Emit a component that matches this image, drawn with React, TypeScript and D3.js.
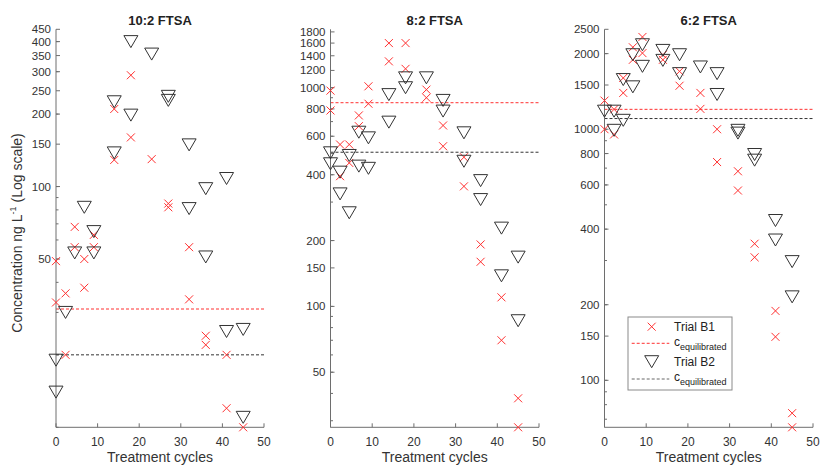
import React from 'react';
import * as d3 from 'd3';

// treatment cycles (shared x positions)
const cycles = [0, 2.3, 4.5, 6.8, 9.1, 14, 18, 23, 27, 32, 36, 41, 45];

// 10:2 FTSA
const p1B1a = [49, 36, 68, 50, 63, 210, 290, 130, 85, 56, 24, 20, 10];
const p1B1b = [33, 20, 56, 38, 56, 129, 160, null, 82, 34, 22, 12, null];
const p1B2a = [19, 30, 53, 82, 65, 225, 400, 355, 237, 149, 98, 108, 25.5];
const p1B2b = [14, null, null, null, 53, 138, 198, null, 228, 81, 51, 25, 11];
const p1Equil = [31, 20];
const p1Ticks = [50, 100, 150, 200, 250, 300, 350, 400, 450];

// 8:2 FTSA
const p2B1a = [970, 550, 550, 747, 1015, 1600, 1600, 980, 672, 481, 192, 110, 38];
const p2B1b = [787, 394, 453, 667, 845, 1320, 1220, 900, 540, 354, 160, 70, 28];
const p2B2a = [504, 411, 490, 626, 590, 930, 1110, 1110, 875, 622, 376, 228, 168];
const p2B2b = [449, 327, 268, 438, 428, 696, 1000, null, 782, 461, 308, 138, 86];
const p2Equil = [854, 507];
const p2Ticks = [50, 100, 150, 200, 400, 600, 800, 1000, 1200, 1400, 1600, 1800];

// 6:2 FTSA
const p3B1a = [1300, 1200, 1600, 2120, 2330, 1980, 1700, 1395, 1000, 680, 350, 189, 74];
const p3B1b = [1000, 953, 1395, 1890, 2010, 1890, 1490, 1205, 740, 570, 309, 149, 65];
const p3B2a = [1180, 1180, 1577, 1980, 2170, 2060, 1980, 1770, 1665, 990, 793, 433, 297];
const p3B2b = [null, 990, 1085, 1475, 1780, 1880, 1665, null, 1375, 965, 753, 362, 215];
const p3Equil = [1200, 1103];
const p3Ticks = [100, 150, 200, 400, 600, 800, 1000, 1500, 2000, 2500];

const xTicks = [0, 10, 20, 30, 40, 50];

const panels = [
  { title: '10:2 FTSA', left: 56, right: 264, domain: [10, 450], ticks: p1Ticks, b1: [p1B1a, p1B1b], b2: [p1B2a, p1B2b], equil: p1Equil },
  { title: '8:2 FTSA', left: 330.5, right: 539, domain: [28, 1850], ticks: p2Ticks, b1: [p2B1a, p2B1b], b2: [p2B2a, p2B2b], equil: p2Equil },
  { title: '6:2 FTSA', left: 604.5, right: 813, domain: [65, 2500], ticks: p3Ticks, b1: [p3B1a, p3B1b], b2: [p3B2a, p3B2b], equil: p3Equil },
];

const TOP = 29.3;
const BOTTOM = 427.3;
const FONT = 'Liberation Sans, Arial, sans-serif';
const RED = '#ff3030';
const DARK = '#333333';
const AXIS = '#6e6e6e';

function Cross({ x, y }: { x: number; y: number }) {
  const s = 4;
  return (
    <path d={`M${x - s},${y - s}L${x + s},${y + s}M${x - s},${y + s}L${x + s},${y - s}`}
      stroke={RED} strokeWidth={1} fill="none" />
  );
}

function Tri({ x, y }: { x: number; y: number }) {
  return (
    <path d={`M${x - 7},${y - 6}L${x + 7},${y - 6}L${x},${y + 6}Z`}
      stroke={DARK} strokeWidth={1} fill="none" />
  );
}

function Panel({ p }: { p: any }) {
  const x = d3.scaleLinear().domain([0, 50]).range([p.left, p.right]);
  const y = d3.scaleLog().domain(p.domain).range([BOTTOM, TOP]);
  const minor = y.ticks().filter((v: number) => v >= p.domain[0] && v <= p.domain[1]);
  const cx = (p.left + p.right) / 2;

  const pts = (series: (number | null)[][]) =>
    series.flatMap((arr) => arr.map((v, i) => (v == null ? null : { x: x(cycles[i]), y: y(v) })).filter(Boolean)) as { x: number; y: number }[];

  return (
    <g>
      <text x={cx} y={25} textAnchor="middle" fontFamily={FONT} fontSize={13} fontWeight="bold" fill="#222">{p.title}</text>

      {/* equilibrated concentrations */}
      <line x1={p.left} x2={p.right} y1={y(p.equil[0])} y2={y(p.equil[0])} stroke={RED} strokeWidth={1} strokeDasharray="3,2" />
      <line x1={p.left} x2={p.right} y1={y(p.equil[1])} y2={y(p.equil[1])} stroke={DARK} strokeWidth={1} strokeDasharray="3,2" />

      {/* axes */}
      <line x1={p.left} x2={p.left} y1={TOP} y2={BOTTOM} stroke={AXIS} strokeWidth={1} />
      <line x1={p.left} x2={p.right} y1={BOTTOM} y2={BOTTOM} stroke={AXIS} strokeWidth={1} />
      {minor.map((v: number) => (
        <line key={'m' + v} x1={p.left} x2={p.left + 2.5} y1={y(v)} y2={y(v)} stroke={AXIS} />
      ))}
      {p.ticks.map((v: number) => (
        <g key={'t' + v}>
          <line x1={p.left} x2={p.left + 4} y1={y(v)} y2={y(v)} stroke={AXIS} />
          <text x={p.left - 5} y={y(v)} dy="0.35em" textAnchor="end" fontFamily={FONT} fontSize={11.5} fill="#333">{v}</text>
        </g>
      ))}
      {xTicks.map((v) => (
        <g key={'x' + v}>
          <line x1={x(v)} x2={x(v)} y1={BOTTOM} y2={BOTTOM - 4} stroke={AXIS} />
          <text x={x(v)} y={446} textAnchor="middle" fontFamily={FONT} fontSize={12} fill="#333">{v}</text>
        </g>
      ))}
      <text x={cx} y={462} textAnchor="middle" fontFamily={FONT} fontSize={14} fill="#333">Treatment cycles</text>

      {/* data */}
      {pts(p.b1).map((d, i) => <Cross key={'c' + i} x={d.x} y={d.y} />)}
      {pts(p.b2).map((d, i) => <Tri key={'v' + i} x={d.x} y={d.y} />)}
    </g>
  );
}

function Legend() {
  const lx = 628, ly = 317;
  const mx = 651.7, tx = 674;
  const rows = [326.7, 343.3, 361.7, 379];
  return (
    <g fontFamily={FONT} fill="#222">
      <rect x={lx} y={ly} width={104} height={73} fill="#fff" stroke="#8a8a8a" strokeWidth={1} />
      <Cross x={mx} y={rows[0]} />
      <text x={tx} y={rows[0]} dy="0.35em" fontSize={12}>Trial B1</text>
      <line x1={631.7} x2={669.3} y1={rows[1]} y2={rows[1]} stroke={RED} strokeDasharray="3,2" />
      <text x={tx} y={rows[1]} dy="0.2em" fontSize={12}>c<tspan fontSize={9} dy="4">equilibrated</tspan></text>
      <Tri x={mx} y={rows[2]} />
      <text x={tx} y={rows[2]} dy="0.35em" fontSize={12}>Trial B2</text>
      <line x1={631.7} x2={669.3} y1={rows[3]} y2={rows[3]} stroke="#666" strokeDasharray="3,2" />
      <text x={tx} y={rows[3]} dy="0.2em" fontSize={12}>c<tspan fontSize={9} dy="4">equilibrated</tspan></text>
    </g>
  );
}

export default function App() {
  return (
    <div style={{ position: 'fixed', left: 0, top: 0, width: 821, height: 465, background: '#fff' }}>
      <svg width={821} height={465}>
        <rect width={821} height={465} fill="#fff" />
        <text transform="translate(22,233) rotate(-90)" textAnchor="middle" fontFamily={FONT} fontSize={14} fill="#333">
          Concentration ng L<tspan fontSize={9} dy="-6">-1</tspan><tspan dy="6"> (Log scale)</tspan>
        </text>
        {panels.map((p) => <Panel key={p.title} p={p} />)}
        <Legend />
      </svg>
    </div>
  );
}
